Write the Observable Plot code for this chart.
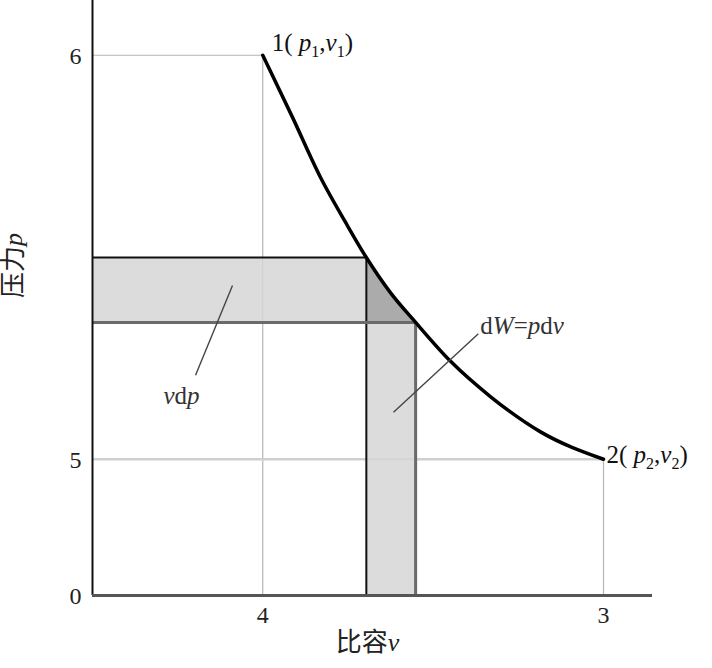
<!DOCTYPE html>
<html><head><meta charset="utf-8">
<script src="https://cdn.jsdelivr.net/npm/d3@7"></script>
<script src="https://cdn.jsdelivr.net/npm/@observablehq/plot@0.6"></script>
<style>
html,body{margin:0;padding:0;background:#fff;}
#chart svg{display:block;}
#chart text{font-family:'Liberation Serif','DejaVu Serif','Noto Sans CJK SC',serif;}
</style>
</head><body>
<div id="chart"></div>
<script>
// Axis ticks (schematic positions) and labels
const xTickPos = [30.4, 91.25];
const xTickLabels = ["4", "3"];
const yTickPos = [0, 22.9, 90.8];
const yTickLabels = ["0", "5", "6"];
const xAxisLabel = "比容v";
const yAxisLabel = "压力p";

// Process curve 1 -> 2 (specific volume v, pressure p)
const curveV = [30.4, 35.7, 40.7, 45.2, 48.9, 53.2, 57.7, 63.9, 71.1, 80.0, 91.25];
const curveP = [90.8, 80.4, 70.3, 62.7, 56.8, 50.9, 45.9, 39.4, 33.4, 27.5, 22.9];

// Differential strips: v between vA..vB, p between pB..pA
const stripV = [48.9, 57.7];
const stripP = [45.9, 56.8];

// Point labels
const pointLabels = ["1( p1,v1)", "2( p2,v2)"];
// Leader annotations
const leaderText = ["vdp", "dW=pdv"];
const leaderFromV = [25.0, 53.75];
const leaderFromP = [52.1, 30.8];
const leaderToV = [18.4, 68.9];
const leaderToP = [37.0, 44.0];

const curve = curveV.map((v, i) => ({v, p: curveP[i]}));
const [vA, vB] = stripV;
const [pB, pA] = stripP;
const overlap = curve.filter(d => d.v >= vA && d.v <= vB);
const start = curve[0], end = curve[curve.length - 1];
const leaders = leaderText.map((t, i) => ({t, x1: leaderFromV[i], y1: leaderFromP[i], x2: leaderToV[i], y2: leaderToP[i]}));

const FONT = "'Liberation Serif','DejaVu Serif','Noto Sans CJK SC',serif";

const chart = Plot.plot({
  width: 712,
  height: 668,
  marginLeft: 92,
  marginRight: 60,
  marginTop: 0,
  marginBottom: 73,
  style: {fontFamily: FONT, fontSize: "22px", background: "#fff", color: "#222"},
  x: {domain: [0, 100], axis: null},
  y: {domain: [0, 100], axis: null},
  marks: [
    // reference lines to state points
    Plot.ruleX([start], {x: "v", y1: 0, y2: "p", stroke: "#b5b5b5", strokeWidth: 1.2}),
    Plot.ruleY([start], {y: "p", x1: 0, x2: "v", stroke: "#b5b5b5", strokeWidth: 1.2}),
    Plot.ruleY([end], {y: "p", x1: 0, x2: "v", stroke: "#cfcfcf", strokeWidth: 2.5}),
    Plot.ruleX([end], {x: "v", y1: 0, y2: "p", stroke: "#b5b5b5", strokeWidth: 1.2}),
    // strips
    Plot.rectY([{x1: 0, x2: vA, y1: pB, y2: pA}], {x1: "x1", x2: "x2", y1: "y1", y2: "y2", fill: "#d6d6d6", fillOpacity: 0.85}),
    Plot.rectY([{x1: vA, x2: vB, y1: 0, y2: pB}], {x1: "x1", x2: "x2", y1: "y1", y2: "y2", fill: "#d6d6d6", fillOpacity: 0.85}),
    Plot.areaY(overlap, {x: "v", y1: pB, y2: "p", fill: "#ababab", curve: "monotone-x"}),
    // strip borders
    Plot.ruleY([pA], {x1: 0, x2: vA, stroke: "#111", strokeWidth: 2}),
    Plot.ruleX([vA], {y1: 0, y2: pA, stroke: "#111", strokeWidth: 2}),
    Plot.ruleY([pB], {x1: 0, x2: vB, stroke: "#6a6a6a", strokeWidth: 3}),
    Plot.ruleX([vB], {y1: 0, y2: pB, stroke: "#6a6a6a", strokeWidth: 3}),
    // axes lines
    Plot.ruleX([0], {y1: 0, y2: 100, stroke: "#111", strokeWidth: 2}),
    Plot.ruleY([0], {x1: 0, x2: 100, stroke: "#555", strokeWidth: 3}),
    // curve
    Plot.line(curve, {x: "v", y: "p", stroke: "#000", strokeWidth: 3.5, curve: "monotone-x"}),
    // leaders
    Plot.link(leaders, {x1: "x1", y1: "y1", x2: "x2", y2: "y2", stroke: "#444", strokeWidth: 1.4}),
    Plot.text([leaders[0]], {x: "x2", y: "y2", text: "t", dx: -14, dy: 21, textAnchor: "middle", fill: "#333", fontSize: 25}),
    Plot.text([leaders[1]], {x: "x2", y: "y2", text: "t", dx: 2, dy: -8, textAnchor: "start", fill: "#333", fontSize: 25}),
    // point labels
    Plot.text([start], {x: "v", y: "p", text: () => pointLabels[0], dx: 9, dy: -12, textAnchor: "start", fill: "#111", fontSize: 25}),
    Plot.text([end], {x: "v", y: "p", text: () => pointLabels[1], dx: 3, dy: -4, textAnchor: "start", fill: "#111", fontSize: 25}),
    // tick labels
    Plot.text(yTickPos, {x: 0, y: d => d, text: (d, i) => yTickLabels[i], dx: -11, dy: 1, textAnchor: "end", fontSize: 24, fill: "#222"}),
    Plot.text(xTickPos, {x: d => d, y: 0, text: (d, i) => xTickLabels[i], dy: 20, fontSize: 24, fill: "#222"}),
    // axis titles
    Plot.text([yAxisLabel], {frameAnchor: "left", dx: -79, rotate: -90, fontSize: 26, fill: "#222"}),
    Plot.text([xAxisLabel], {frameAnchor: "bottom", dy: 55, dx: -5, fontSize: 26, fill: "#222"})
  ]
});

document.getElementById("chart").append(chart);

// Italicise variable letters and make their indices subscripts
const ITALIC = new Set(["p", "v", "W"]);
d3.select(chart).selectAll("text").each(function() {
  const el = this;
  const s = el.textContent;
  if (!/[pvW]/.test(s)) return;
  const target = el.querySelector("tspan") || el;
  target.textContent = "";
  let prevItalic = false, shifted = false;
  for (const ch of s) {
    const t = document.createElementNS("http://www.w3.org/2000/svg", "tspan");
    t.textContent = ch;
    if (ITALIC.has(ch)) {
      t.setAttribute("font-style", "italic");
      if (shifted) { t.setAttribute("dy", "-6"); shifted = false; }
      prevItalic = true;
    } else if (/[0-9]/.test(ch) && prevItalic) {
      t.setAttribute("font-size", "16");
      t.setAttribute("dy", "6");
      shifted = true;
      prevItalic = false;
    } else {
      if (shifted) { t.setAttribute("dy", "-6"); shifted = false; }
      prevItalic = false;
    }
    target.appendChild(t);
  }
});
</script>
</body></html>
